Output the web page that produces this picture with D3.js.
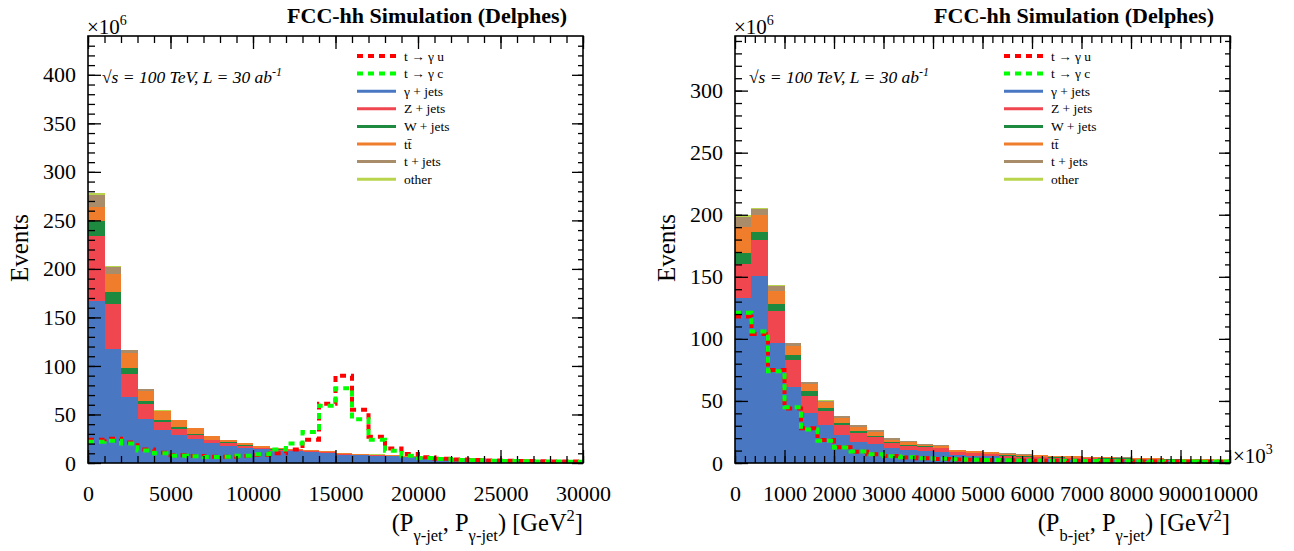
<!DOCTYPE html>
<html>
<head>
<meta charset="utf-8">
<script src="https://cdn.jsdelivr.net/npm/d3@7"></script>
<style>
    body { margin: 0; background: #FFFFFF; }
    svg text { font-family: "Liberation Serif", "Times New Roman", serif; fill: #000000; }
</style>
</head>
<body>
<div class="canvas"></div>
<script>
// ---- left plot: (P gamma-jet, P gamma-jet), bins of 1000 GeV^2 ----
const leftBins = [0, 1000, 2000, 3000, 4000, 5000, 6000, 7000, 8000, 9000,
    10000, 11000, 12000, 13000, 14000, 15000, 16000, 17000, 18000, 19000,
    20000, 21000, 22000, 23000, 24000, 25000, 26000, 27000, 28000, 29000];
const leftGammaJets = [167, 117, 68, 45, 34, 29, 24.4, 20.3, 18, 15.8, 14, 12.8, 12.2, 11, 10.4, 8.6, 7.9, 7.4, 7, 6, 5.6, 5, 4.6, 4.2, 3.8, 3.5, 3.2, 2.9, 2.6, 2.4];
const leftZJets = [67, 47, 24, 16, 8.5, 6.5, 4.8, 3, 3, 2, 1.5, 1.1, 1, 0.9, 0.8, 0.7, 0.6, 0.5, 0.4, 0.4, 0.4, 0.3, 0.3, 0.3, 0.3, 0.3, 0.2, 0.2, 0.2, 0.2];
const leftWJets = [15, 12, 6, 3, 2, 1.4, 1, 0.6, 0.7, 0.3, 0.3, 0.3, 0.2, 0.2, 0.2, 0.2, 0.2, 0.1, 0.1, 0.1, 0.1, 0.1, 0.1, 0.1, 0.1, 0.1, 0.1, 0.1, 0.1, 0.1];
const leftTTbar = [14.6, 19, 15, 10, 9, 7, 5.5, 3.5, 2, 2.2, 1.5, 1, 0.9, 0.8, 0.8, 0.7, 0.6, 0.5, 0.4, 0.3, 0.3, 0.3, 0.3, 0.3, 0.2, 0.2, 0.2, 0.2, 0.2, 0.2];
const leftTJets = [12.7, 7, 3, 2, 0.5, 0.5, 0.5, 0.4, 0.3, 0.5, 0.4, 0.4, 0.5, 0.4, 0.3, 0.3, 0.3, 0.2, 0.2, 0.2, 0.2, 0.2, 0.1, 0.1, 0.1, 0.1, 0.1, 0.1, 0.1, 0.1];
const leftOther = [1.7, 1, 0.7, 0.5, 0.3, 0.2, 0.2, 0.1, 0.1, 0.1, 0.1, 0.1, 0.1, 0.1, 0.1, 0.1, 0.1, 0.1, 0.1, 0.1, 0.1, 0.1, 0.1, 0.1, 0.1, 0.1, 0.1, 0.1, 0.1, 0.1];
const leftTGammaU = [24, 25, 21, 14, 10.6, 8, 7.2, 6.5, 6.5, 7.2, 8.2, 10, 14, 24, 61, 90, 55, 27, 15, 9.3, 5.8, 4.5, 3.5, 3, 2.6, 2.2, 2, 1.8, 1.6, 1.5];
const leftTGammaC = [22, 23, 20, 13, 10, 7.6, 7, 6.3, 6.4, 7.5, 9, 14, 20, 32, 59, 77, 45, 24, 12.7, 7.6, 5.2, 4, 3.2, 2.8, 2.4, 2, 1.8, 1.6, 1.5, 1.4];
const leftXTicks = [0, 5000, 10000, 15000, 20000, 25000, 30000];
const leftYTicks = [0, 50, 100, 150, 200, 250, 300, 350, 400];

// ---- right plot: (P b-jet, P gamma-jet), 30 bins over 0..10000 (x10^3) ----
const rightBins = [0, 333.3, 666.7, 1000, 1333.3, 1666.7, 2000, 2333.3, 2666.7, 3000,
    3333.3, 3666.7, 4000, 4333.3, 4666.7, 5000, 5333.3, 5666.7, 6000, 6333.3,
    6666.7, 7000, 7333.3, 7666.7, 8000, 8333.3, 8666.7, 9000, 9333.3, 9666.7];
const rightGammaJets = [133, 151, 96.5, 61, 40, 31, 22.3, 17.2, 15.3, 12.4, 10.5, 9.9, 9.1, 6.5, 5.9, 5.3, 4, 3.5, 3.3, 3, 2.8, 2.6, 2.4, 2.3, 2.1, 2, 1.9, 1.8, 1.7, 1.6];
const rightZJets = [27, 29, 26, 22, 14.3, 10.7, 8.3, 7.3, 5.4, 4, 3.2, 2.8, 2.6, 2.2, 2, 1.9, 1.8, 1.7, 1.6, 1.4, 1.4, 1.3, 1.2, 1.2, 1, 1, 0.9, 0.8, 0.7, 0.6];
const rightWJets = [9, 6.5, 5.6, 4, 3.5, 3, 1.9, 1.3, 1.3, 0.8, 0.8, 0.6, 0.6, 0.5, 0.4, 0.4, 0.3, 0.3, 0.3, 0.2, 0.2, 0.2, 0.2, 0.2, 0.2, 0.1, 0.1, 0.1, 0.1, 0.1];
const rightTTbar = [21.5, 13, 10.5, 7.4, 5.9, 4.3, 4, 3.2, 2.7, 1.3, 2.7, 1.5, 1.6, 1.2, 1.2, 1.3, 1.5, 1.3, 1.1, 0.9, 0.9, 0.8, 0.8, 0.7, 0.6, 0.6, 0.5, 0.5, 0.5, 0.4];
const rightTJets = [8, 5.3, 4, 2, 1.6, 1.3, 1, 1.4, 1.9, 1.9, 0.5, 0.3, 0.3, 0.2, 0.2, 0.2, 0.2, 0.2, 0.2, 0.1, 0.1, 0.1, 0.1, 0.1, 0.1, 0.1, 0.1, 0.1, 0.1, 0.1];
const rightOther = [1, 0.8, 0.5, 0.3, 0.2, 0.2, 0.1, 0.1, 0.1, 0.1, 0.1, 0.1, 0.1, 0.1, 0.1, 0.1, 0.1, 0.1, 0.1, 0.1, 0.1, 0.1, 0.1, 0.1, 0.1, 0.1, 0.1, 0.1, 0.1, 0.1];
const rightTGammaU = [118, 104, 75, 44, 28, 18.5, 12.6, 9.1, 7, 5.6, 4.5, 3.8, 3.3, 2.9, 2.6, 2.4, 2.2, 2, 1.9, 1.8, 1.7, 1.6, 1.5, 1.4, 1.3, 1.2, 1.2, 1.1, 1.1, 1];
const rightTGammaC = [121, 106, 74, 45, 27, 18, 12.4, 9.3, 7.1, 5.5, 4.6, 3.9, 3.4, 3, 2.7, 2.5, 2.3, 2.1, 2, 1.9, 1.8, 1.7, 1.6, 1.5, 1.4, 1.3, 1.2, 1.2, 1.1, 1.1];
const rightXTicks = [0, 1000, 2000, 3000, 4000, 5000, 6000, 7000, 8000, 9000, 10000];
const rightYTicks = [0, 50, 100, 150, 200, 250, 300];

const backgroundKeys = ['gamma', 'z', 'w', 'tt', 't', 'other'];
const legendLabels = ['t \u2192 \u03b3 u', 't \u2192 \u03b3 c', '\u03b3 + jets', 'Z + jets', 'W + jets', 'tt\u0304', 't + jets', 'other'];
const colors = {
    gamma: '#4a77c2', z: '#ef4650', w: '#1e8a3f', tt: '#f07d2b', t: '#a98d6b', other: '#b8d44c',
    sigU: '#ff0000', sigC: '#00ff00'
};

const svg = d3.select('.canvas')
    .append('svg')
    .attr('width', 1294)
    .attr('height', 551)
    .style('background', '#FFFFFF');

const frameLeft = 88, frameRight = 583, frameTop = 36, frameBottom = 463;
const labelSize = 22;

function drawPanel(p) {
    const x0 = p.offset + frameLeft, x1 = p.offset + frameRight;
    const xScale = d3.scaleLinear().domain([0, p.xMax]).range([x0, x1]);
    const yScale = d3.scaleLinear().domain([0, p.yMax]).range([frameBottom, frameTop]);
    const g = svg.append('g');

    const rows = p.bins.map((b, i) => ({
        bin: b, gamma: p.bg[0][i], z: p.bg[1][i], w: p.bg[2][i],
        tt: p.bg[3][i], t: p.bg[4][i], other: p.bg[5][i]
    }));
    const stacked = d3.stack().keys(backgroundKeys)(rows);
    const binRight = i => (i + 1 < p.bins.length ? p.bins[i + 1] : p.xMax);

    g.selectAll('.layer')
        .data(stacked).enter()
        .append('g')
        .attr('fill', d => colors[d.key])
        .selectAll('rect')
        .data(d => d).enter()
        .append('rect')
        .attr('shape-rendering', 'crispEdges')
        .attr('x', (d, i) => xScale(p.bins[i]))
        .attr('width', (d, i) => xScale(binRight(i)) - xScale(p.bins[i]))
        .attr('y', d => yScale(d[1]))
        .attr('height', d => yScale(d[0]) - yScale(d[1]));

    // signal histograms, drawn as dashed step lines
    const step = d3.line()
        .x(d => xScale(d[0]))
        .y(d => yScale(d[1]))
        .curve(d3.curveStepAfter);
    [[p.sigU, colors.sigU], [p.sigC, colors.sigC]].forEach(([vals, col]) => {
        const pts = p.bins.map((b, i) => [b, vals[i]]);
        pts.push([p.xMax, vals[vals.length - 1]]);
        g.append('path')
            .attr('d', step(pts))
            .attr('fill', 'none')
            .attr('stroke', col)
            .attr('stroke-width', 4)
            .attr('stroke-dasharray', '6,5');
    });

    // axes: ticks point inside the frame on all four sides
    const yMinor = d3.range(0, p.yMax, 10);
    const xMinor = d3.range(0, p.xMax + 1, p.xMinorStep);
    const axes = [
        { make: d3.axisBottom, scale: xScale, pos: `translate(0, ${frameBottom})`, major: p.xTicks, minor: xMinor, label: true, pad: 22, big: 13, small: 7 },
        { make: d3.axisTop, scale: xScale, pos: `translate(0, ${frameTop})`, major: p.xTicks, minor: xMinor, label: false, pad: 0, big: 13, small: 7 },
        { make: d3.axisLeft, scale: yScale, pos: `translate(${x0}, 0)`, major: p.yTicks, minor: yMinor, label: true, pad: 12, big: 13, small: 7 },
        { make: d3.axisRight, scale: yScale, pos: `translate(${x1}, 0)`, major: p.yTicks, minor: yMinor, label: false, pad: 0, big: 11, small: 5 }
    ];
    axes.forEach(a => {
        g.append('g').attr('transform', a.pos)
            .call(a.make(a.scale).tickValues(a.minor).tickSize(-a.small).tickFormat(''));
        const ag = g.append('g').attr('transform', a.pos)
            .call(a.make(a.scale).tickValues(a.major).tickSize(-a.big)
                .tickPadding(a.pad)
                .tickFormat(a.label ? d3.format('d') : ''));
        ag.selectAll('text')
            .attr('font-size', labelSize)
            .attr('font-family', '"Liberation Serif", serif')
            .attr('fill', '#000');
    });
    g.selectAll('.domain').remove();
    g.selectAll('.tick line').attr('stroke', '#000').attr('stroke-width', 1.3);

    g.append('rect')
        .attr('x', x0).attr('y', frameTop)
        .attr('width', x1 - x0).attr('height', frameBottom - frameTop)
        .attr('fill', 'none').attr('stroke', '#000').attr('stroke-width', 1.6);

    // titles
    g.append('text')
        .attr('x', x1 - 16).attr('y', 23)
        .attr('text-anchor', 'end')
        .attr('font-size', 22).attr('font-weight', 'bold')
        .text('FCC-hh Simulation (Delphes)');

    const exp = g.append('text').attr('x', x0 - 1).attr('y', 34).attr('font-size', 21);
    exp.append('tspan').text('\u00d710');
    exp.append('tspan').attr('font-size', 14).attr('dy', -9).text('6');

    const lumi = g.append('text').attr('x', x0 + 14).attr('y', 83)
        .attr('font-size', 17.5).attr('font-style', 'italic');
    lumi.append('tspan').attr('font-style', 'normal').text('\u221a');
    lumi.append('tspan').text('s = 100 TeV, L = 30 ab');
    lumi.append('tspan').attr('font-size', 12).attr('dy', -7).text('-1');

    g.append('text')
        .attr('transform', `translate(${p.offset + 28}, 248) rotate(-90)`)
        .attr('text-anchor', 'middle')
        .attr('font-size', 25)
        .text('Events');

    const xt = g.append('text').attr('x', x1).attr('y', 531)
        .attr('text-anchor', 'end').attr('font-size', 24.5);
    xt.append('tspan').text('(P');
    xt.append('tspan').attr('font-size', 16.5).attr('dy', 10).text(p.sub1);
    xt.append('tspan').attr('dy', -10).text(', P');
    xt.append('tspan').attr('font-size', 16.5).attr('dy', 10).text('\u03b3-jet');
    xt.append('tspan').attr('dy', -10).text(') [GeV');
    xt.append('tspan').attr('font-size', 16.5).attr('dy', -10).text('2');
    xt.append('tspan').attr('dy', 10).text(']');

    if (p.xExp) {
        const xe = g.append('text').attr('x', x1 + 3).attr('y', 463).attr('font-size', 21);
        xe.append('tspan').text('\u00d710');
        xe.append('tspan').attr('font-size', 14).attr('dy', -9).text(p.xExp);
    }

    // legend
    const lg = g.append('g').attr('transform', `translate(${p.offset + 357}, 56)`);
    const legendColors = [colors.sigU, colors.sigC, colors.gamma, colors.z, colors.w, colors.tt, colors.t, colors.other];
    legendLabels.forEach((lab, i) => {
        const yy = i * 17.6;
        lg.append('line')
            .attr('x1', 0).attr('x2', 39).attr('y1', yy).attr('y2', yy)
            .attr('stroke', legendColors[i])
            .attr('stroke-width', i < 2 ? 4 : 3)
            .attr('stroke-dasharray', i < 2 ? '6,5' : null);
        lg.append('text')
            .attr('x', 47).attr('y', yy + 4.5)
            .attr('font-size', 13.5)
            .text(lab);
    });
}

drawPanel({
    offset: 0, bins: leftBins, xMax: 30000, yMax: 440, xMinorStep: 1000,
    bg: [leftGammaJets, leftZJets, leftWJets, leftTTbar, leftTJets, leftOther],
    sigU: leftTGammaU, sigC: leftTGammaC,
    xTicks: leftXTicks, yTicks: leftYTicks, sub1: '\u03b3-jet', xExp: null
});
drawPanel({
    offset: 647, bins: rightBins, xMax: 10000, yMax: 344, xMinorStep: 200,
    bg: [rightGammaJets, rightZJets, rightWJets, rightTTbar, rightTJets, rightOther],
    sigU: rightTGammaU, sigC: rightTGammaC,
    xTicks: rightXTicks, yTicks: rightYTicks, sub1: 'b-jet', xExp: '3'
});
</script>
</body>
</html>
